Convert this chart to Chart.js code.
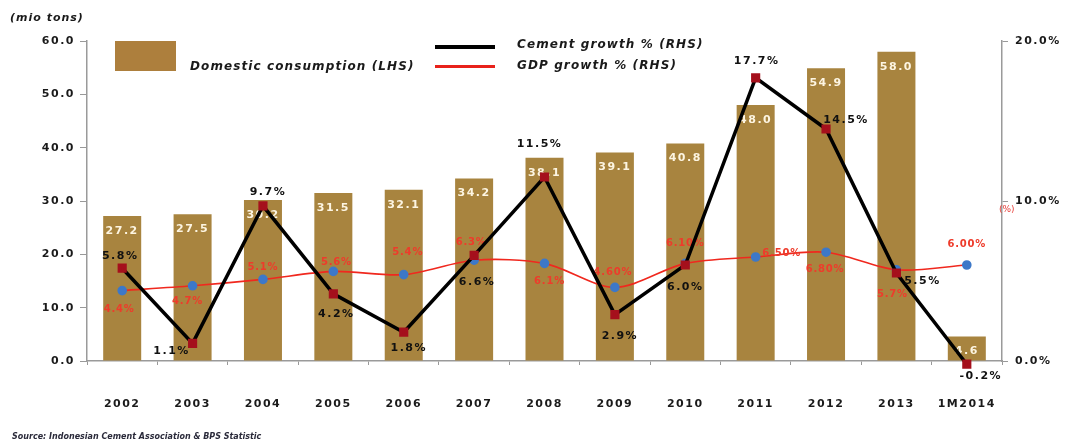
<!DOCTYPE html>
<html>
<head>
<meta charset="utf-8">
<script src="https://cdn.jsdelivr.net/npm/chart.js@4.4.1/dist/chart.umd.min.js"></script>
<style>
    body { margin: 0; background: #fff; width: 1066px; height: 446px; overflow: hidden; position: relative; font-family: "DejaVu Sans", sans-serif; }
    #wrap { position: absolute; left: 0; top: 0; width: 1066px; height: 446px; }
    .t { position: absolute; font-weight: bold; font-style: italic; white-space: nowrap; color: #1a1a1a; }
</style>
</head>
<body>
<div id="wrap"><canvas id="chart"></canvas></div>

<div class="t" style="left:10px;top:11px;font-size:11px;letter-spacing:1px;">(mio tons)</div>
<div style="position:absolute;left:115px;top:41px;width:61px;height:30px;background:#ad7f3d;"></div>
<div class="t" style="left:190px;top:59px;font-size:12px;letter-spacing:1.1px;">Domestic consumption (LHS)</div>
<div style="position:absolute;left:435px;top:45px;width:60px;height:4px;background:#000;"></div>
<div class="t" style="left:517px;top:37px;font-size:12px;letter-spacing:1.1px;">Cement growth % (RHS)</div>
<div style="position:absolute;left:435px;top:65px;width:60px;height:3px;background:#e8221b;"></div>
<div class="t" style="left:517px;top:58px;font-size:12px;letter-spacing:1.1px;">GDP growth % (RHS)</div>
<div style="position:absolute;left:999px;top:204px;font-size:9px;color:#e8403a;">(%)</div>
<div class="t" style="left:12px;top:432px;font-size:8px;color:#2a2a3a;">Source: Indonesian Cement Association &amp; BPS Statistic</div>

<script>
const categories = ['2002', '2003', '2004', '2005', '2006', '2007', '2008', '2009', '2010', '2011', '2012', '2013', '1M2014'];
const consumption = [27.2, 27.5, 30.2, 31.5, 32.1, 34.2, 38.1, 39.1, 40.8, 48.0, 54.9, 58.0, 4.6];
const cementGrowth = [5.8, 1.1, 9.7, 4.2, 1.8, 6.6, 11.5, 2.9, 6.0, 17.7, 14.5, 5.5, -0.2];
const gdpGrowth = [4.4, 4.7, 5.1, 5.6, 5.4, 6.3, 6.1, 4.6, 6.1, 6.5, 6.8, 5.7, 6.0];
const gdpLabels = ['4.4%', '4.7%', '5.1%', '5.6%', '5.4%', '6.3%', '6.1%', '4.60%', '6.10%', '6.50%', '6.80%', '5.7%', '6.00%'];

// label offsets from each point, in px
const cementLabelOffsets = [[-2, -12], [-21, 8], [5, -14], [3, 20], [5, 16], [3, 27], [-5, -33], [5, 22], [0, 22], [1, -17], [20, -9], [26, 8], [14, 12]];
const gdpLabelOffsets = [[-3, 19], [-5, 16], [0, -12], [3, -9], [4, -22], [-3, -18], [5, 18], [-2, -15], [0, -20], [26, -4], [-1, 17], [-4, 25], [0, -21]];

const FONT = 'DejaVu Sans';

const valueLabels = {
    id: 'valueLabels',
    beforeDraw(chart) {
        chart.ctx.letterSpacing = '1.5px';
    },
    afterDatasetDraw(chart, args) {
        const ctx = chart.ctx;
        const meta = args.meta;
        ctx.save();
        ctx.textAlign = 'center';
        ctx.textBaseline = 'middle';
        if (args.index === 0) {
            ctx.font = 'bold 11px "' + FONT + '"';
            ctx.fillStyle = '#fdf5e2';
            ctx.letterSpacing = '1.5px';
            meta.data.forEach((bar, i) => {
                ctx.fillText(consumption[i].toFixed(1), bar.x, bar.y + 15);
            });
        } else if (args.index === 1) {
            ctx.font = 'bold 10px "' + FONT + '"';
            ctx.fillStyle = '#ee3b2b';
            ctx.letterSpacing = '0.8px';
            meta.data.forEach((pt, i) => {
                const [dx, dy] = gdpLabelOffsets[i];
                ctx.fillText(gdpLabels[i], pt.x + dx, pt.y + dy);
            });
        } else if (args.index === 2) {
            ctx.font = 'bold 11px "' + FONT + '"';
            ctx.fillStyle = '#111';
            ctx.letterSpacing = '1.5px';
            meta.data.forEach((pt, i) => {
                const [dx, dy] = cementLabelOffsets[i];
                ctx.fillText(cementGrowth[i].toFixed(1) + '%', pt.x + dx, pt.y + dy);
            });
        }
        ctx.restore();
    },
};

const tickFont = { family: FONT, size: 11, weight: 'bold' };

new Chart(document.getElementById('chart'), {
    type: 'bar',
    data: {
        labels: categories,
        datasets: [
            {
                label: 'Domestic consumption (LHS)',
                data: consumption,
                backgroundColor: '#a8843f',
                yAxisID: 'y',
                barPercentage: 0.54,
                categoryPercentage: 1,
                order: 3,
            },
            {
                type: 'line',
                label: 'GDP growth % (RHS)',
                data: gdpGrowth,
                borderColor: '#f0281e',
                borderWidth: 1.6,
                tension: 0.3,
                pointRadius: 4,
                pointBackgroundColor: '#3d78c8',
                pointBorderColor: '#3d78c8',
                yAxisID: 'y1',
                clip: false,
                order: 2,
            },
            {
                type: 'line',
                label: 'Cement growth % (RHS)',
                data: cementGrowth,
                borderColor: '#000',
                borderWidth: 3.5,
                tension: 0,
                pointStyle: 'rect',
                pointRadius: 4,
                pointBackgroundColor: '#a5101c',
                pointBorderColor: '#a5101c',
                yAxisID: 'y1',
                clip: false,
                order: 1,
            },
        ],
    },
    options: {
        responsive: true,
        maintainAspectRatio: false,
        animation: false,
        layout: { padding: { top: 41, left: 0, right: 0, bottom: 0 } },
        plugins: {
            legend: { display: false },
            tooltip: { enabled: false },
        },
        scales: {
            x: {
                grid: { display: true, drawOnChartArea: false, tickLength: 4, color: '#999', offset: true },
                border: { color: '#9a9a9a', width: 1.5 },
                ticks: { font: tickFont, color: '#1a1a1a', padding: 33, maxRotation: 0, autoSkip: false },
                afterFit(scale) { scale.height = 85; },
            },
            y: {
                position: 'left',
                min: 0,
                max: 60,
                grid: { drawOnChartArea: false, tickLength: 7, color: '#999' },
                border: { color: '#9a9a9a', width: 1.5 },
                ticks: { stepSize: 10, font: tickFont, color: '#1a1a1a', padding: 5, callback: v => v.toFixed(1) },
                afterFit(scale) { scale.width = 87; },
            },
            y1: {
                position: 'right',
                min: 0,
                max: 20,
                grid: { drawOnChartArea: false, tickLength: 6, color: '#999' },
                border: { color: '#9a9a9a', width: 1.5 },
                ticks: { stepSize: 10, font: tickFont, color: '#1a1a1a', padding: 7, callback: v => v.toFixed(1) + '%' },
                afterFit(scale) { scale.width = 64; },
            },
        },
    },
    plugins: [valueLabels],
});
</script>
</body>
</html>
